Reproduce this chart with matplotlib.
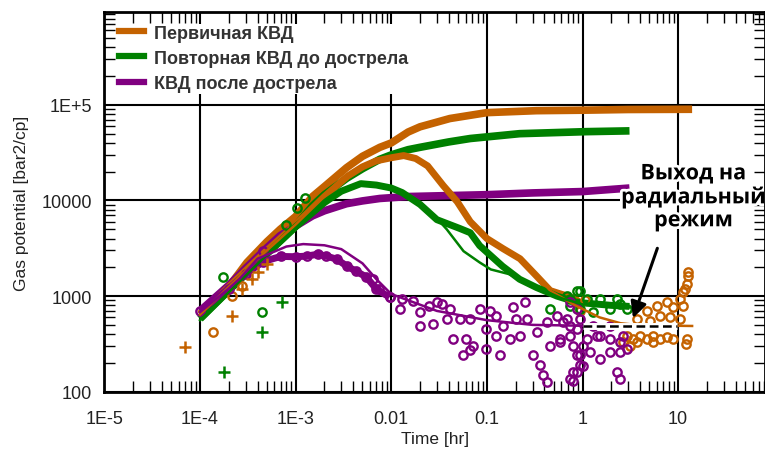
import numpy as np
import matplotlib.pyplot as plt
import matplotlib.patheffects as pe
from matplotlib.patches import Rectangle
from matplotlib.ticker import LogLocator, NullFormatter, FixedLocator

ORANGE = "#C46200"
GREEN = "#008000"
PURPLE = "#800080"

labels = ["Первичная КВД", "Повторная КВД до дострела", "КВД после дострела"]

# --- pressure (dense '+' markers), time [hr] / gas potential [bar2/cp]
t_p1 = [1e-4, 2e-4, 3.1e-4, 5e-4, 6.9e-4, 1e-3, 1.5e-3, 2e-3, 3.4e-3, 5e-3, 7.6e-3, 0.01,
        0.015, 0.02, 0.041, 0.1, 0.33, 1, 3, 14]
p1 = [650, 1250, 2250, 3700, 5000, 6800, 11000, 14000, 22000, 29000, 36000, 40000,
      52000, 59000, 72000, 83000, 87000, 88000, 89500, 90000]
t_p2 = [1e-4, 2e-4, 5e-4, 7.9e-4, 1e-3, 1.5e-3, 2e-3, 3.4e-3, 5e-3, 7.6e-3, 0.01, 0.015,
        0.02, 0.04, 0.067, 0.22, 1.1, 3.1]
p2 = [580, 1150, 2800, 4300, 5400, 8800, 11500, 17000, 21500, 27000, 30000, 34000,
      36000, 41000, 44500, 50000, 52500, 53500]
t_p3 = [1e-4, 2e-4, 3e-4, 5e-4, 6.9e-4, 1e-3, 1.5e-3, 2e-3, 3.4e-3, 5e-3, 7.6e-3, 0.015,
        0.1, 0.3, 1, 3.1]
p3 = [700, 1300, 1950, 3200, 4300, 5400, 6900, 7800, 9250, 9900, 10500, 11000,
      11500, 12000, 12400, 13500]

# --- derivative (dense 'o' markers)
t_d1 = [1e-4, 2e-4, 5e-4, 1e-3, 2e-3, 3.5e-3, 5e-3, 7e-3, 0.01, 0.0135, 0.018, 0.024,
        0.035, 0.049, 0.067, 0.1, 0.148, 0.222, 0.335, 0.46, 0.84, 1.0]
d1 = [640, 1250, 3000, 5600, 11000, 18000, 22500, 26000, 28000, 29500, 27500, 23000,
      14300, 9700, 6000, 4000, 3130, 2460, 1600, 1140, 940, 800]
t_d2 = [1e-4, 3e-4, 1e-3, 2e-3, 3e-3, 4.8e-3, 7e-3, 0.01, 0.013, 0.02, 0.03, 0.052,
        0.067, 0.084, 0.146, 0.22, 0.33, 0.54, 0.84, 1.0, 2.0, 3.1]
d2 = [580, 1700, 5300, 9500, 12500, 15000, 14500, 13500, 12100, 9100, 6300, 5100,
      4600, 3370, 2050, 1500, 1230, 1000, 870, 850, 800, 780]
t_d3 = [1e-4, 2e-4, 3e-4, 4.6e-4, 7e-4, 1e-3, 1.3e-3, 1.7e-3, 2.1e-3, 2.7e-3, 3.45e-3,
        4.3e-3, 5.5e-3, 7e-3, 0.0096]
d3 = [700, 1200, 1700, 2300, 2600, 2580, 2620, 2740, 2620, 2430, 2050, 1820, 1580,
      1180, 975]

# --- model lines
t_m1 = [1e-4, 2e-4, 5e-4, 1e-3, 2e-3, 3.5e-3, 5e-3, 7e-3, 0.01, 0.0135, 0.018, 0.024,
        0.035, 0.049, 0.067, 0.1, 0.148, 0.222, 0.335, 0.46, 0.84, 1.5, 2.5, 4, 14]
m1 = [640, 1250, 3000, 5600, 11000, 18000, 22500, 26000, 28000, 29500, 27500, 23000,
      14300, 9700, 6000, 4000, 3130, 2460, 1600, 1140, 800, 600, 520, 495, 487]
t_m2 = [1e-4, 2e-4, 5e-4, 1e-3, 2e-3, 3.5e-3, 5e-3, 0.01, 0.02, 0.03, 0.038, 0.057,
        0.084, 0.11, 0.17, 0.3, 0.6, 1, 3.1]
m2 = [560, 1100, 2700, 5000, 9500, 13500, 15000, 13500, 9500, 6500, 5000, 2950,
      2250, 1900, 1700, 1300, 950, 820, 760]
t_m3 = [1e-4, 2e-4, 2.6e-4, 4e-4, 8e-4, 1.2e-3, 2e-3, 3e-3, 5e-3, 7e-3, 0.01, 0.03,
        0.1, 0.3, 1, 3.1]
m3 = [680, 1200, 1520, 2460, 3300, 3500, 3400, 3100, 2200, 1500, 1050, 700,
      560, 500, 490, 487]

# --- scattered derivative points
t_s1 = [1.37e-4, 2.16e-4, 2.77e-4, 0.94, 1.05, 2.93, 3.4, 4.0, 4.7, 5.5, 6.5, 7.7, 8.9,
        3.15, 3.7, 2.66, 5.5, 3.7, 4.7, 5.1, 6.0, 6.5, 7.7, 8.2, 8.9, 10.5,
        10.5, 11.2, 11.8, 12.3, 12.7, 12.7, 11.2, 12.3, 12.0]
s1 = [420, 1000, 1290, 700, 900, 383, 356, 383, 356, 383, 356, 370, 356,
      301, 332, 332, 332, 575, 700, 550, 787, 619, 866, 600, 768, 575,
      930, 1100, 1180, 1330, 1620, 1800, 787, 356, 316]
t_s2 = [1.74e-4, 4.5e-4, 7.9e-4, 1.04e-3, 1.26e-3, 0.46, 0.69, 0.74, 0.74, 0.88, 0.94,
        0.94, 1.12, 1.29, 1.53, 1.94, 2.3, 2.47, 2.93]
s2 = [1600, 690, 5600, 8400, 10500, 730, 1000, 787, 930, 1130, 1130,
      730, 930, 680, 930, 730, 930, 825, 730]
t_s3 = [4.6e-4, 0.0064, 0.0075, 0.0096, 0.0131, 0.0167, 0.0122, 0.0198, 0.025, 0.030,
        0.034, 0.041, 0.0198, 0.027, 0.038, 0.052, 0.066, 0.084, 0.107, 0.126, 0.186,
        0.248, 0.204, 0.26, 0.146, 0.099, 0.044, 0.061, 0.071, 0.099, 0.056, 0.066,
        0.136, 0.126, 0.173, 0.22, 0.335, 0.43, 0.54, 0.69, 0.74, 0.88, 0.30, 0.36,
        0.39, 0.43, 0.74, 0.80, 0.88, 0.94, 0.58, 0.46, 0.74, 1.01, 0.63, 0.88, 0.58,
        0.80, 1.12, 1.53, 1.94, 2.47, 2.93, 0.94, 1.53, 1.2, 1.94, 2.47, 1.01, 0.88,
        0.80, 2.3, 2.47, 1.42, 0.74, 0.94, 1.29, 1.94, 2.66]
s3 = [2950, 1500, 1180, 975, 930, 890, 730, 680, 790, 870,
      830, 730, 490, 510, 575, 575, 575, 730, 700, 620, 770,
      870, 575, 575, 490, 450, 360, 360, 300, 280, 240, 270,
      240, 380, 360, 380, 420, 540, 620, 575, 870, 730, 240, 190,
      150, 127, 137, 160, 240, 190, 330, 300, 380, 300, 536, 450, 356,
      300, 356, 380, 356, 330, 280, 240, 220, 260, 260, 260, 187, 160,
      130, 160, 137, 380, 487, 575, 487, 487, 380]

# --- off-trend early pressure points ('+')
t_c1 = [7e-5, 2.16e-4, 2.77e-4, 3.5e-4, 4.05e-4, 5e-4]
c1 = [296, 625, 1190, 1520, 1800, 2180]
t_c2 = [1.8e-4, 4.5e-4, 7.2e-4]
c2 = [162, 425, 875]

fig = plt.figure(figsize=(7.65, 4.52), dpi=100)
ax = fig.add_axes([104.4 / 765, (452 - 392.7) / 452, (765 - 104.4) / 765, (392.7 - 13.3) / 452])
ax.set_xscale("log")
ax.set_yscale("log")
ax.set_xlim(1e-5, 81)
ax.set_ylim(100, 9.3e5)

# thick marker bands
for t, v, c in [(t_p1, p1, ORANGE), (t_p2, p2, GREEN), (t_p3, p3, PURPLE)]:
    ax.plot(t, v, color=c, lw=5.5, solid_capstyle="butt", zorder=3)
for t, v, c in [(t_d1, d1, ORANGE), (t_d2, d2, GREEN), (t_d3, d3, PURPLE)]:
    ax.plot(t, v, color=c, lw=5, solid_capstyle="butt", zorder=3)

# scattered points
ax.plot(t_s1, s1, "o", mfc="none", mec=ORANGE, ms=6, mew=1.7, zorder=3)
ax.plot(t_s2, s2, "o", mfc="none", mec=GREEN, ms=6, mew=1.7, zorder=3)
ax.plot(t_s3, s3, "o", mfc="none", mec=PURPLE, ms=6, mew=1.7, zorder=3)
ax.plot(t_d3, d3, "o", mfc="none", mec=PURPLE, ms=6, mew=1.7, zorder=3)
ax.plot(t_c1, c1, "+", color=ORANGE, ms=9, mew=1.8, zorder=3)
ax.plot(t_c2, c2, "+", color=GREEN, ms=9, mew=1.8, zorder=3)

# model lines
ax.plot(t_m1, m1, color=ORANGE, lw=1.8, zorder=4)
ax.plot(t_m2, m2, color=GREEN, lw=1.8, zorder=4)
ax.plot(t_m3, m3, color=PURPLE, lw=1.8, zorder=4)

# radial flow line
ax.plot([1, 9.8], [487, 487], color="white", lw=5, zorder=5, solid_capstyle="butt")
ax.plot([1, 9.8], [487, 487], color="black", lw=1.8, ls=(0, (3.5, 1.8)), zorder=6)

ax.annotate("", xy=(3.3, 553), xytext=(6.2, 3370),
            arrowprops=dict(arrowstyle="-|>", lw=2.2, color="black", mutation_scale=24),
            zorder=7)
ax.text(14.4, 10800, "Выход на\nрадиальный\nрежим", ha="center", va="center",
        multialignment="center", fontsize=15.5, fontweight="bold", family="Open Sans",
        linespacing=1.12, color="black", zorder=8, clip_on=False,
        path_effects=[pe.withStroke(linewidth=4, foreground="white")])

# axes styling
ax.set_axisbelow(True)
ax.grid(which="major", color="black", lw=1.5)
ax.xaxis.set_major_locator(FixedLocator([1e-5, 1e-4, 1e-3, 1e-2, 0.1, 1, 10]))
ax.set_xticklabels(["1E-5", "1E-4", "1E-3", "0.01", "0.1", "1", "10"])
ax.yaxis.set_major_locator(FixedLocator([100, 1000, 10000, 1e5]))
ax.set_yticklabels(["100", "1000", "10000", "1E+5"])
ax.xaxis.set_minor_locator(LogLocator(base=10, subs=np.arange(2, 10), numticks=20))
ax.yaxis.set_minor_locator(LogLocator(base=10, subs=np.arange(2, 10), numticks=20))
ax.xaxis.set_minor_formatter(NullFormatter())
ax.yaxis.set_minor_formatter(NullFormatter())
ax.tick_params(axis="x", which="major", length=0, pad=13)
ax.tick_params(axis="y", which="major", length=0, pad=9)
ax.tick_params(which="major", labelsize=13, labelcolor="#222222")
ax.tick_params(which="minor", direction="in", length=8, width=1, top=True, right=True)
for s in ax.spines.values():
    s.set_linewidth(2)
    s.set_zorder(9)
for lab in ax.get_xticklabels() + ax.get_yticklabels():
    lab.set_family("Liberation Sans")

ax.set_xlabel("Time [hr]", fontsize=12.5, family="Liberation Sans", color="#222222", labelpad=3)
ax.set_ylabel("Gas potential [bar2/cp]", fontsize=12.5, family="Liberation Sans",
              color="#222222", labelpad=9)

# white area behind the legend hides the grid but keeps the ticks
ax.add_patch(Rectangle((0.0176, 0.7847), 0.475, 0.184, transform=ax.transAxes,
                       facecolor="white", edgecolor="none", zorder=2))

handles = [plt.Line2D([], [], color=c, lw=4.5) for c in (ORANGE, GREEN, PURPLE)]
leg = ax.legend(handles, labels, loc="upper left", bbox_to_anchor=(0.0176, 0.9745),
                borderaxespad=0, borderpad=0.15, labelspacing=0.45, handlelength=1.4,
                handletextpad=0.55, frameon=False,
                prop={"family": "Liberation Sans", "weight": "bold", "size": 13})
for tx in leg.get_texts():
    tx.set_color("#333333")

fig.savefig("out.png", dpi=100)
